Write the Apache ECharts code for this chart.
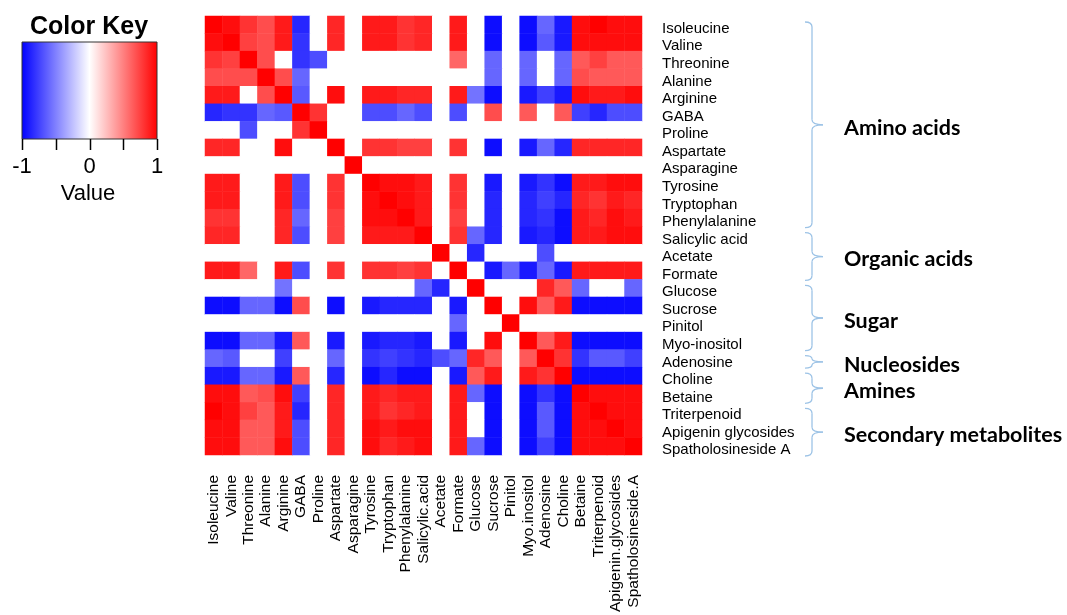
<!DOCTYPE html>
<html>
<head>
<meta charset="utf-8">
<script src="https://cdn.jsdelivr.net/npm/echarts@6/dist/echarts.min.js"></script>
<style>
html,body{margin:0;padding:0;background:#fff;}
#chart{width:1067px;height:615px;}
</style>
</head>
<body>
<div id="chart"></div>
<script>
// Row labels (right side, top to bottom)
const rowLabels = ['Isoleucine','Valine','Threonine','Alanine','Arginine','GABA','Proline','Aspartate','Asparagine','Tyrosine','Tryptophan','Phenylalanine','Salicylic acid','Acetate','Formate','Glucose','Sucrose','Pinitol','Myo-inositol','Adenosine','Choline','Betaine','Triterpenoid','Apigenin glycosides','Spatholosineside A'];
// Column labels (bottom, left to right)
const colLabels = ['Isoleucine','Valine','Threonine','Alanine','Arginine','GABA','Proline','Aspartate','Asparagine','Tyrosine','Tryptophan','Phenylalanine','Salicylic.acid','Acetate','Formate','Glucose','Sucrose','Pinitol','Myo.inositol','Adenosine','Choline','Betaine','Triterpenoid','Apigenin.glycosides','Spatholosineside.A'];

// Correlation values, one row per metabolite (0 = not significant, white)
const rIsoleucine   = [1,0.95,0.8,0.7,0.9,-0.85,0,0.85,0,0.9,0.9,0.8,0.85,0,0.9,0,-0.95,0,-0.95,-0.6,-0.9,0.95,1,0.95,0.95];
const rValine       = [0.95,1,0.75,0.7,0.9,-0.8,0,0.85,0,0.9,0.9,0.8,0.85,0,0.9,0,-0.95,0,-0.95,-0.65,-0.9,0.95,0.95,0.95,0.95];
const rThreonine    = [0.8,0.75,1,0.7,0,-0.8,-0.7,0,0,0,0,0,0,0,0.6,0,-0.6,0,-0.6,0,-0.6,0.65,0.75,0.65,0.65];
const rAlanine      = [0.7,0.7,0.7,1,0.7,-0.6,0,0,0,0,0,0,0,0,0,0,-0.6,0,-0.6,0,-0.6,0.7,0.65,0.65,0.65];
const rArginine     = [0.9,0.9,0,0.7,1,-0.65,0,0.95,0,0.9,0.9,0.85,0.85,0,0.9,-0.55,-0.95,0,-0.9,-0.75,-0.9,0.95,0.9,0.9,0.95];
const rGABA         = [-0.85,-0.8,-0.8,-0.6,-0.65,1,0.8,0,0,-0.7,-0.7,-0.6,-0.7,0,-0.7,0,0.7,0,0.65,0,0.65,-0.75,-0.85,-0.7,-0.7];
const rProline      = [0,0,-0.7,0,0,0.8,1,0,0,0,0,0,0,0,0,0,0,0,0,0,0,0,0,0,0];
const rAspartate    = [0.85,0.85,0,0,0.95,0,0,1,0,0.8,0.8,0.75,0.75,0,0.8,0,-0.95,0,-0.9,-0.6,-0.85,0.85,0.85,0.85,0.85];
const rAsparagine   = [0,0,0,0,0,0,0,0,1,0,0,0,0,0,0,0,0,0,0,0,0,0,0,0,0];
const rTyrosine     = [0.9,0.9,0,0,0.9,-0.7,0,0.8,0,1,0.95,0.95,0.9,0,0.8,0,-0.9,0,-0.9,-0.8,-0.95,0.9,0.9,0.95,0.95];
const rTryptophan   = [0.9,0.9,0,0,0.9,-0.7,0,0.8,0,0.95,1,0.95,0.9,0,0.8,0,-0.85,0,-0.85,-0.75,-0.85,0.85,0.8,0.9,0.85];
const rPhenylala    = [0.8,0.8,0,0,0.85,-0.6,0,0.75,0,0.95,0.95,1,0.9,0,0.75,0,-0.85,0,-0.85,-0.8,-0.95,0.9,0.85,0.95,0.9];
const rSalicylic    = [0.85,0.85,0,0,0.85,-0.7,0,0.75,0,0.9,0.9,0.9,1,0,0.8,-0.6,-0.85,0,-0.9,-0.85,-0.95,0.9,0.9,0.95,0.95];
const rAcetate      = [0,0,0,0,0,0,0,0,0,0,0,0,0,1,0,-0.85,0,0,0,-0.7,0,0,0,0,0];
const rFormate      = [0.9,0.9,0.6,0,0.9,-0.7,0,0.8,0,0.8,0.8,0.75,0.8,0,1,0,-0.9,-0.6,-0.9,-0.6,-0.9,0.9,0.9,0.9,0.9];
const rGlucose      = [0,0,0,0,-0.55,0,0,0,0,0,0,0,-0.6,-0.85,0,1,0,0,0,0.85,0.65,-0.6,0,0,-0.6];
const rSucrose      = [-0.95,-0.95,-0.6,-0.6,-0.95,0.7,0,-0.95,0,-0.9,-0.85,-0.85,-0.85,0,-0.9,0,1,0,0.95,0.65,0.9,-0.95,-0.95,-0.95,-0.95];
const rPinitol      = [0,0,0,0,0,0,0,0,0,0,0,0,0,0,-0.6,0,0,1,0,0,0,0,0,0,0];
const rMyoinositol  = [-0.95,-0.95,-0.6,-0.6,-0.9,0.65,0,-0.9,0,-0.9,-0.85,-0.85,-0.9,0,-0.9,0,0.95,0,1,0.65,0.9,-0.95,-0.95,-0.95,-0.95];
const rAdenosine    = [-0.6,-0.65,0,0,-0.75,0,0,-0.6,0,-0.8,-0.75,-0.8,-0.85,-0.7,-0.6,0.85,0.65,0,0.65,1,0.8,-0.8,-0.65,-0.65,-0.75];
const rCholine      = [-0.9,-0.9,-0.6,-0.6,-0.9,0.65,0,-0.85,0,-0.95,-0.85,-0.95,-0.95,0,-0.9,0.65,0.9,0,0.9,0.8,1,-0.95,-0.95,-0.95,-0.95];
const rBetaine      = [0.95,0.95,0.65,0.7,0.95,-0.75,0,0.85,0,0.9,0.85,0.9,0.9,0,0.9,-0.6,-0.95,0,-0.95,-0.8,-0.95,1,0.95,0.95,0.95];
const rTriterpenoid = [1,0.95,0.75,0.65,0.9,-0.85,0,0.85,0,0.9,0.8,0.85,0.9,0,0.9,0,-0.95,0,-0.95,-0.65,-0.95,0.95,1,0.95,0.95];
const rApigenin     = [0.95,0.95,0.65,0.65,0.9,-0.7,0,0.85,0,0.95,0.9,0.95,0.95,0,0.9,0,-0.95,0,-0.95,-0.65,-0.95,0.95,0.95,1,0.95];
const rSpatholos    = [0.95,0.95,0.65,0.65,0.95,-0.7,0,0.85,0,0.95,0.85,0.9,0.95,0,0.9,-0.6,-0.95,0,-0.95,-0.75,-0.95,0.95,0.95,0.95,1];

const matrixRows = [rIsoleucine,rValine,rThreonine,rAlanine,rArginine,rGABA,rProline,rAspartate,rAsparagine,rTyrosine,rTryptophan,rPhenylala,rSalicylic,rAcetate,rFormate,rGlucose,rSucrose,rPinitol,rMyoinositol,rAdenosine,rCholine,rBetaine,rTriterpenoid,rApigenin,rSpatholos];

// Groups (row index ranges)
const groupNames = ['Amino acids','Organic acids','Sugar','Nucleosides','Amines','Secondary metabolites'];
const groupFirst = [0,12,15,19,20,22];
const groupLast  = [11,14,18,19,21,24];

// Color key
const keyTicks = [-1,-0.5,0,0.5,1];
const keyLabels = ['-1','0','1'];
const keyLabelValues = [-1,0,1];

const heatData = [];
matrixRows.forEach((row, r) => row.forEach((v, c) => heatData.push([c, r, v])));

const FONT = '"Liberation Sans", Arial, sans-serif';
const chart = echarts.init(document.getElementById('chart'), null, {renderer:'canvas'});

const option = {
  backgroundColor: '#ffffff',
  animation: false,
  grid: {left: 205, top: 16, width: 437, height: 442},
  xAxis: {
    type: 'category', data: colLabels, position: 'bottom',
    axisLine: {show:false}, axisTick: {show:false}, splitLine: {show:false},
    axisLabel: {rotate: 90, interval: 0, margin: 20, fontSize: 15.5, color: '#000', fontFamily: FONT}
  },
  yAxis: {
    type: 'category', data: rowLabels, inverse: true, position: 'right',
    axisLine: {show:false}, axisTick: {show:false}, splitLine: {show:false},
    axisLabel: {interval: 0, margin: 20, fontSize: 15, color: '#000', fontFamily: FONT, align: 'left', verticalAlign: 'top', lineHeight: 8}
  },
  visualMap: {
    show: false, type: 'continuous', min: -1, max: 1, dimension: 2,
    inRange: {color: ['#0000FF', '#FFFFFF', '#FF0000']}
  },
  series: [{
    type: 'heatmap', data: heatData, progressive: 0,
    itemStyle: {borderWidth: 0},
    emphasis: {disabled: true}
  }]
};
chart.setOption(option);

// Build overlay elements positioned from the axes
const graphics = [];
const p0 = chart.convertToPixel({yAxisIndex: 0}, rowLabels[0]);
const p1 = chart.convertToPixel({yAxisIndex: 0}, rowLabels[1]);
const band = p1 - p0;
const braceX = 812, hookX = 805, tipX = 823, r = 5;
const braceStyle = {stroke: '#9DC3E6', lineWidth: 1.3, fill: null};
function seg(x1, y1, x2, y2) {
  graphics.push({type:'line', shape:{x1, y1, x2, y2}, style: braceStyle});
}
function curve(x1, y1, cpx1, cpy1, x2, y2) {
  graphics.push({type:'bezierCurve', shape:{x1, y1, cpx1, cpy1, x2, y2}, style: braceStyle});
}
groupNames.forEach((name, i) => {
  const yTop = chart.convertToPixel({yAxisIndex: 0}, rowLabels[groupFirst[i]]) - band/2 + 6;
  const yBot = chart.convertToPixel({yAxisIndex: 0}, rowLabels[groupLast[i]]) + band/2 + 1;
  const ym = (yTop + yBot) / 2;
  const rr = Math.min(r, (yBot - yTop) / 4);
  curve(hookX, yTop, braceX, yTop, braceX, yTop + rr);
  seg(braceX, yTop + rr, braceX, ym - rr);
  curve(braceX, ym - rr, braceX, ym, tipX, ym);
  curve(tipX, ym, braceX, ym, braceX, ym + rr);
  seg(braceX, ym + rr, braceX, yBot - rr);
  curve(braceX, yBot - rr, braceX, yBot, hookX, yBot);
  graphics.push({type:'text', x: 844, y: ym + 3, style:{text: name, font: 'bold 21.5px Lato, "Open Sans", sans-serif', fill:'#000', verticalAlign:'middle', align:'left'}});
});

// Color key
const kx0 = 22, kx1 = 157, ky0 = 42, ky1 = 139;
const keyX = v => kx0 + (v - (-1)) / 2 * (kx1 - kx0);
graphics.push({type:'text', x: 89, y: 27, style:{text:'Color Key', font:'bold 25px "Liberation Sans", Arial, sans-serif', fill:'#000', align:'center', verticalAlign:'middle'}});
graphics.push({type:'rect', shape:{x:kx0, y:ky0, width:kx1-kx0, height:ky1-ky0}, style:{
  fill:{type:'linear', x:0, y:0, x2:1, y2:0, colorStops:[{offset:0,color:'#0000FF'},{offset:0.5,color:'#FFFFFF'},{offset:1,color:'#FF0000'}]},
  stroke:'#333', lineWidth:1}});
keyTicks.forEach(v => {
  const x = Math.round(keyX(v)) + 0.5;
  graphics.push({type:'line', shape:{x1:x, y1:ky1, x2:x, y2:ky1+11}, style:{stroke:'#000', lineWidth:1.5}});
});
keyLabelValues.forEach((v, i) => {
  graphics.push({type:'text', x: keyX(v), y: 167, style:{text: keyLabels[i], font:'22px "Liberation Sans", Arial, sans-serif', fill:'#000', align:'center', verticalAlign:'middle'}});
});
graphics.push({type:'text', x: 88, y: 194, style:{text:'Value', font:'22px "Liberation Sans", Arial, sans-serif', fill:'#000', align:'center', verticalAlign:'middle'}});

chart.setOption({graphic: graphics});
</script>
</body>
</html>
